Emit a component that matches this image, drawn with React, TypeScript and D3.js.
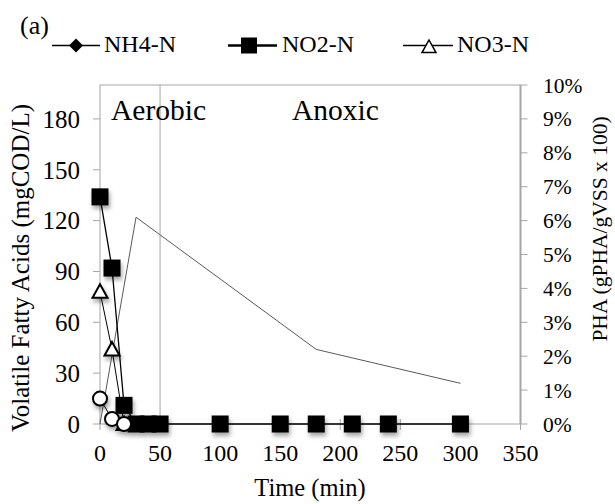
import React from 'react';
import * as d3 from 'd3';

const no2Time = [0, 10, 20, 30, 40, 50, 100, 150, 180, 210, 240, 300];
const no2Val = [134, 92, 11, 0, 0, 0, 0, 0, 0, 0, 0, 0];
const no3Time = [0, 10, 20];
const no3Val = [78, 44, 0];
const vfaTime = [0, 10, 20];
const vfaVal = [15, 3, 0];
const phaTime = [0, 30, 180, 300];
const phaVal = [0, 0.061, 0.022, 0.012]; // fraction, right axis

const xTicks = [0, 50, 100, 150, 200, 250, 300, 350];
const yLeftTicks = [0, 30, 60, 90, 120, 150, 180];
const yRightTicks = [0, 0.01, 0.02, 0.03, 0.04, 0.05, 0.06, 0.07, 0.08, 0.09, 0.1];

const GRID = '#a6a6a6';
const tf = { fontFamily: '"Liberation Serif"' };

export default function App() {
  const x = d3.scaleLinear().domain([0, 350]).range([100, 520.5]);
  const yL = d3.scaleLinear().domain([0, 200]).range([424, 85]);
  const yR = d3.scaleLinear().domain([0, 0.1]).range([424, 85]);

  const lineL = d3.line<[number, number]>().x(d => x(d[0])).y(d => yL(d[1]));
  const lineR = d3.line<[number, number]>().x(d => x(d[0])).y(d => yR(d[1]));

  const no2 = no2Time.map((t, i) => [t, no2Val[i]] as [number, number]);
  const no3 = no3Time.map((t, i) => [t, no3Val[i]] as [number, number]);
  const vfa = vfaTime.map((t, i) => [t, vfaVal[i]] as [number, number]);
  const pha = phaTime.map((t, i) => [t, phaVal[i]] as [number, number]);

  const tri = (cx: number, cy: number, s: number) =>
    `M${cx},${cy - s * 0.5}L${cx + s / 2},${cy + s * 0.4}L${cx - s / 2},${cy + s * 0.4}Z`;

  return (
    <div style={{ position: 'absolute', left: 0, top: 0 }}>
      <svg width={615} height={504} style={{ display: 'block', background: '#fff' }}>
        <defs>
          <filter id="shadow" x="-50%" y="-50%" width="200%" height="200%">
            <feDropShadow dx="1.5" dy="3.5" stdDeviation="2" floodColor="#000" floodOpacity="0.35" />
          </filter>
        </defs>

        {/* plot frame */}
        <rect x={x(0)} y={yL(200)} width={x(350) - x(0)} height={yL(0) - yL(200)} fill="none" stroke={GRID} strokeWidth={1} />
        <line x1={x(350)} x2={x(350)} y1={yL(200)} y2={yL(0)} stroke={GRID} strokeWidth={2} />

        {/* left axis */}
        {yLeftTicks.map(v => (
          <g key={'l' + v}>
            <line x1={93} x2={x(0)} y1={yL(v)} y2={yL(v)} stroke={GRID} />
            <text x={80} y={yL(v)} dy="0.35em" textAnchor="end" fontSize={25} style={tf}>{v}</text>
          </g>
        ))}
        {/* right axis */}
        {yRightTicks.map(v => (
          <g key={'r' + v}>
            <line x1={x(350)} x2={x(350) + 7} y1={yR(v)} y2={yR(v)} stroke={GRID} />
            <text x={543} y={yR(v)} dy="0.35em" fontSize={21.5} style={tf}>{d3.format('.0%')(v)}</text>
          </g>
        ))}
        {/* bottom axis */}
        {xTicks.map(v => (
          <g key={'x' + v}>
            <line x1={x(v)} x2={x(v)} y1={yL(0) - 5} y2={yL(0) + 6} stroke={GRID} />
            <text x={x(v)} y={461} textAnchor="middle" fontSize={24} style={tf}>{v}</text>
          </g>
        ))}

        {/* axis titles */}
        <text transform={`translate(29,268) rotate(-90)`} textAnchor="middle" fontSize={25} style={tf}>Volatile Fatty Acids (mgCOD/L)</text>
        <text transform={`translate(607,229) rotate(-90)`} textAnchor="middle" fontSize={21.5} style={tf}>PHA (gPHA/gVSS x 100)</text>
        <text x={310} y={496} textAnchor="middle" fontSize={24.5} style={tf}>Time (min)</text>

        {/* aerobic / anoxic divider */}
        <line x1={x(50)} x2={x(50)} y1={yL(200)} y2={yL(0)} stroke={GRID} />
        <text x={111} y={120} fontSize={29.5} style={tf}>Aerobic</text>
        <text x={292} y={120} fontSize={29.5} style={tf}>Anoxic</text>

        {/* PHA */}
        <path d={lineR(pha) || ''} fill="none" stroke="#595959" strokeWidth={1} />

        {/* series lines */}
        <path d={lineL(no2) || ''} fill="none" stroke="#000" strokeWidth={1.3} />
        <path d={lineL(no3) || ''} fill="none" stroke="#000" strokeWidth={1} />
        <path d={lineL(vfa) || ''} fill="none" stroke="#000" strokeWidth={1} />

        {/* markers */}
        <g filter="url(#shadow)">
          {no2.map((d, i) => (
            <rect key={'s' + i} x={x(d[0]) - 8.5} y={yL(d[1]) - 8.5} width={17} height={17} fill="#000" />
          ))}
          {no3.map((d, i) => (
            <path key={'t' + i} d={tri(x(d[0]), yL(d[1]), 15)} fill="#fff" stroke="#000" strokeWidth={2} />
          ))}
          {vfa.map((d, i) => (
            <circle key={'c' + i} cx={x(d[0])} cy={yL(d[1])} r={7} fill="#fff" stroke="#000" strokeWidth={2} />
          ))}
        </g>

        {/* legend */}
        <text x={20} y={34} fontSize={26} style={tf}>(a)</text>
        <line x1={52} x2={100} y1={45.5} y2={45.5} stroke="#000" strokeWidth={1.5} />
        <path d={`M76,${45.5 - 7}L${76 + 7},45.5L76,${45.5 + 7}L${76 - 7},45.5Z`} fill="#000" />
        <text x={104} y={51.5} fontSize={24} style={tf}>NH4-N</text>

        <line x1={228} x2={277} y1={45.5} y2={45.5} stroke="#000" strokeWidth={2.5} />
        <rect x={249 - 8} y={45.5 - 8} width={16} height={16} fill="#000" />
        <text x={282} y={51.5} fontSize={24} style={tf}>NO2-N</text>

        <line x1={403} x2={453} y1={45.5} y2={45.5} stroke="#000" strokeWidth={1.5} />
        <path d={tri(429, 47, 14)} fill="#fff" stroke="#000" strokeWidth={1.5} />
        <text x={457} y={51.5} fontSize={24} style={tf}>NO3-N</text>
      </svg>
    </div>
  );
}
